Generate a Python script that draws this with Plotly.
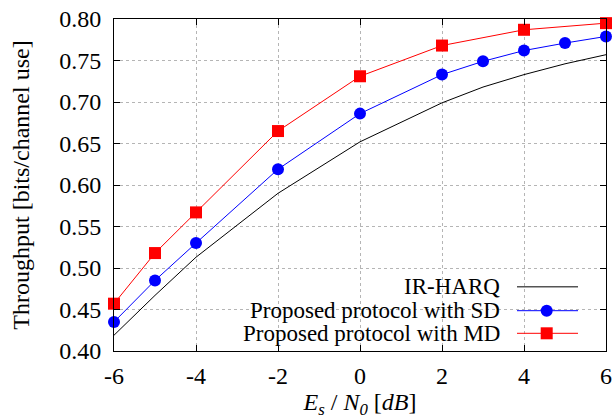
import plotly.graph_objects as go

# Data
x_harq = [-6, -5, -4, -2, 0, 2, 3, 4, 5, 6]
y_harq = [0.419, 0.467, 0.513, 0.590, 0.652, 0.699, 0.718, 0.733, 0.746, 0.757]

x_sd = [-6, -5, -4, -2, 0, 2, 3, 4, 5, 6]
y_sd = [0.435, 0.485, 0.530, 0.619, 0.686, 0.733, 0.749, 0.762, 0.771, 0.779]

x_md = [-6, -5, -4, -2, 0, 2, 4, 6]
y_md = [0.457, 0.518, 0.567, 0.665, 0.731, 0.768, 0.787, 0.795]

names = ["IR-HARQ", "Proposed protocol with SD", "Proposed protocol with MD"]
x_ticks = [-6, -4, -2, 0, 2, 4, 6]
y_ticks = [0.40, 0.45, 0.50, 0.55, 0.60, 0.65, 0.70, 0.75, 0.80]

FONT = "Liberation Serif"
FS = 24
W, H = 613, 419
L, R, T, B = 114, 7, 19, 68
pw, ph = W - L - R, H - T - B

def px(xp):
    return (xp - L) / pw

def py(yp):
    return (H - B - yp) / ph

fig = go.Figure()
fig.add_trace(go.Scatter(x=x_harq, y=y_harq, mode="lines", name=names[0],
                         line=dict(color="black", width=1), cliponaxis=False))
fig.add_trace(go.Scatter(x=x_sd, y=y_sd, mode="lines+markers", name=names[1],
                         line=dict(color="blue", width=1),
                         marker=dict(symbol="circle", size=12, color="blue"), cliponaxis=False))
fig.add_trace(go.Scatter(x=x_md, y=y_md, mode="lines+markers", name=names[2],
                         line=dict(color="red", width=1),
                         marker=dict(symbol="square", size=12, color="red"), cliponaxis=False))

shapes = []
annotations = []
# Opaque legend box
shapes.append(dict(type="rect", xref="paper", yref="paper", x0=px(165), x1=px(585),
                   y0=py(348), y1=py(275), fillcolor="white", line=dict(width=0), layer="between"))
rows = [286.7, 310.7, 333.3]
colors = ["#555555", "blue", "red"]
for i, (nm, c, yy) in enumerate(zip(names, colors, rows)):
    annotations.append(dict(text=nm, xref="paper", yref="paper", x=px(502), y=py(yy),
                            xanchor="right", yanchor="middle", showarrow=False,
                            font=dict(family=FONT, size=23, color="black")))
    shapes.append(dict(type="line", xref="paper", yref="paper", x0=px(517), x1=px(578),
                       y0=py(yy), y1=py(yy), line=dict(color=c, width=1.5 if i == 0 else 1)))
    if i == 1:
        shapes.append(dict(type="circle", xref="paper", yref="paper",
                           x0=px(546.7 - 6), x1=px(546.7 + 6), y0=py(yy + 6), y1=py(yy - 6),
                           fillcolor="blue", line=dict(width=0)))
    if i == 2:
        shapes.append(dict(type="rect", xref="paper", yref="paper",
                           x0=px(546.7 - 6), x1=px(546.7 + 6), y0=py(yy + 6), y1=py(yy - 6),
                           fillcolor="red", line=dict(width=0)))

axis_common = dict(showline=True, linecolor="black", linewidth=1, mirror="ticks",
                   ticks="inside", ticklen=6, tickcolor="black", tickwidth=1,
                   showgrid=True, gridcolor="#b5b5b5", griddash="dot", gridwidth=1,
                   zeroline=False, automargin=False,
                   tickfont=dict(family=FONT, size=FS, color="black"))

fig.update_layout(
    width=W, height=H,
    margin=dict(l=L, r=R, t=T, b=B, autoexpand=False),
    paper_bgcolor="white", plot_bgcolor="white",
    showlegend=False,
    font=dict(family=FONT, size=FS, color="black"),
    shapes=shapes, annotations=annotations,
    xaxis=dict(range=[-6, 6], tickvals=x_ticks, ticktext=[str(v) for v in x_ticks],
               ticklabelstandoff=3,
               title=dict(text="<i>E<sub>s</sub></i> / <i>N<sub>0</sub></i> [<i>dB</i>]",
                          font=dict(family=FONT, size=FS), standoff=12),
               **axis_common),
    yaxis=dict(range=[0.40, 0.80], tickvals=y_ticks, ticktext=[f"{v:.2f}" for v in y_ticks],
               ticklabelstandoff=7,
               title=dict(text="Throughput [bits/channel use]",
                          font=dict(family=FONT, size=FS), standoff=22),
               **axis_common),
)

fig.write_html("out.html", config={"displayModeBar": False},
               post_script="document.body.style.margin='0';document.body.style.overflow='hidden';")
